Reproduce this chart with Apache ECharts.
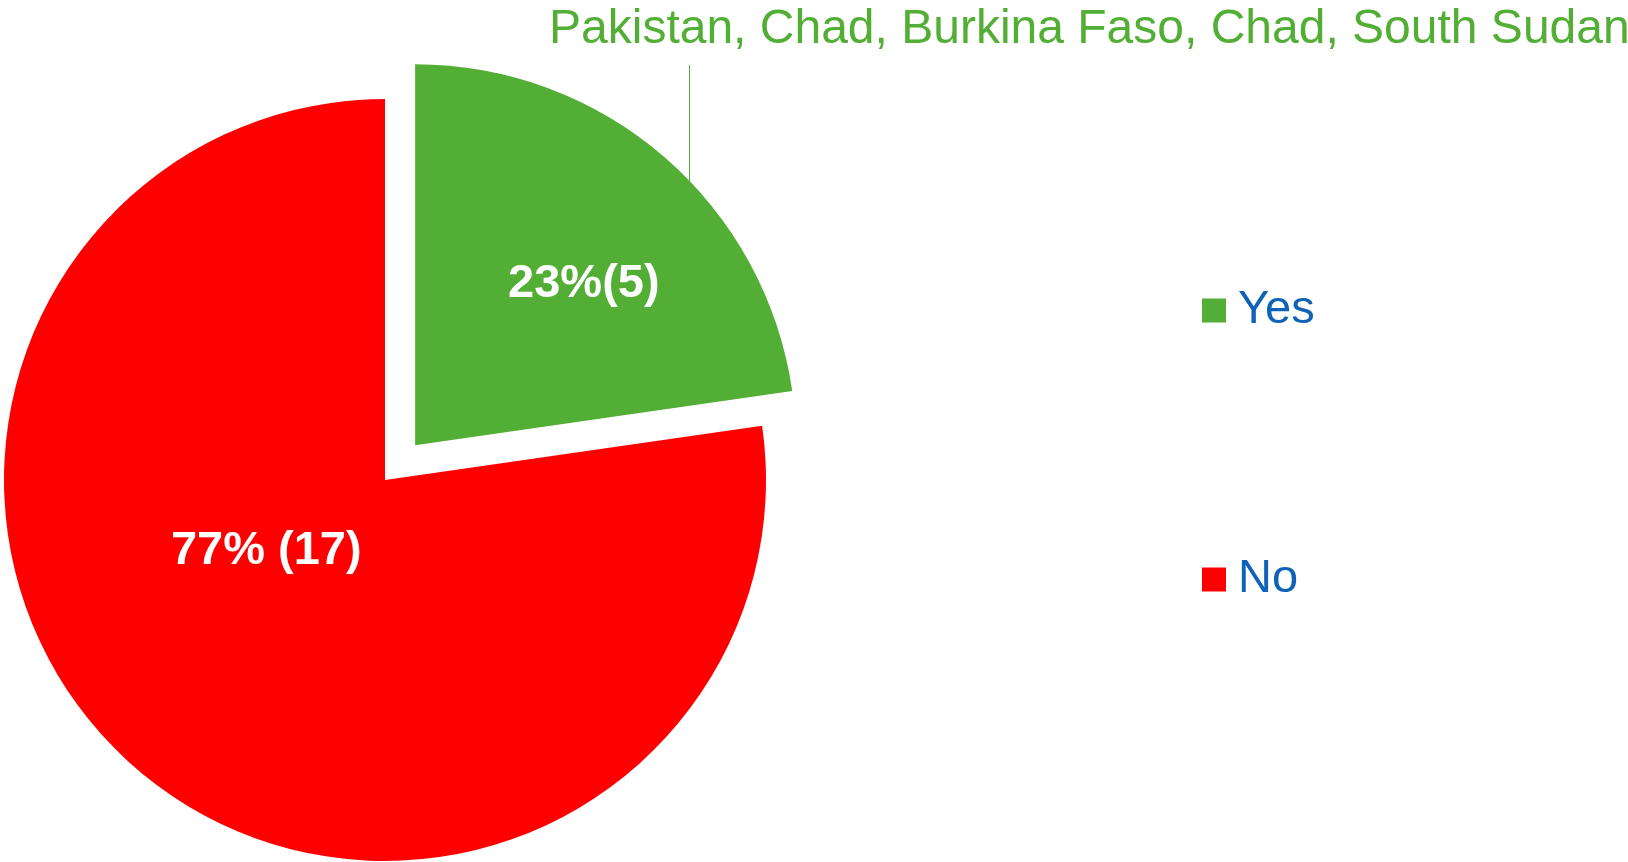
<!DOCTYPE html>
<html>
<head>
<meta charset="utf-8">
<script src="https://cdn.jsdelivr.net/npm/echarts@6/dist/echarts.min.js"></script>
<style>
  html, body { margin: 0; padding: 0; background: #fff; }
  #chart { width: 1628px; height: 862px; }
</style>
</head>
<body>
<div id="chart"></div>
<script>
// Survey answers
const answerNames = ["Yes", "No"];
const answerCounts = [5, 17];
const answerLabels = ["23%(5)", "77% (17)"];
const answerColors = ["#52AE34", "#FF0000"];
const yesCountries = ["Pakistan", "Chad", "Burkina Faso", "Chad", "South Sudan"];

const PIE_CENTER = [385, 480];
const PIE_RADIUS = 381;
const EXPLODE = 46;
const FONT = "'Liberation Sans', Arial, sans-serif";

const chart = echarts.init(document.getElementById("chart"));

const pieData = answerNames.map((name, i) => ({
  name: name,
  value: answerCounts[i],
  selected: i === 0,
  itemStyle: { color: answerColors[i] },
  select: { itemStyle: { color: answerColors[i], borderWidth: 0 } },
}));

// Offsets nudging the inside labels to where the original chart put them
const labelShift = [
  { dx: 42, dy: -15 },
  { dx: 8, dy: -75 },
];

// where the exploded "Yes" slice sits, so the note's leader line can start on its arc
const yesMid = (90 - 180 * answerCounts[0] / (answerCounts[0] + answerCounts[1])) * Math.PI / 180;
const yesCx = PIE_CENTER[0] + EXPLODE * Math.cos(yesMid);
const yesCy = PIE_CENTER[1] - EXPLODE * Math.sin(yesMid);

chart.setOption({
  animation: false,
  legend: {
    data: answerNames,
    orient: "vertical",
    left: 1197,
    top: 282,
    itemWidth: 24,
    itemHeight: 24,
    itemGap: 222,
    icon: "rect",
    selectedMode: false,
    textStyle: {
      color: "#0F62B8",
      fontSize: 47,
      lineHeight: 47,
      fontFamily: FONT,
      padding: [0, 0, 0, 7],
    },
  },
  series: [
    {
      type: "pie",
      center: PIE_CENTER,
      radius: PIE_RADIUS,
      startAngle: 90,
      selectedMode: "single",
      selectedOffset: EXPLODE,
      silent: true,
      data: pieData,
      label: {
        show: true,
        position: "inside",
        formatter: p => answerLabels[p.dataIndex],
        color: "#fff",
        fontSize: 47,
        fontWeight: "bold",
        fontFamily: FONT,
      },
      labelLine: { show: false },
      labelLayout: p => labelShift[p.dataIndex],
      emphasis: { disabled: true },
    },
    {
      // transparent overlay carrying the country note for "Yes"
      type: "pie",
      center: PIE_CENTER,
      radius: PIE_RADIUS,
      startAngle: 90,
      silent: true,
      z: 3,
      data: answerNames.map((name, i) => ({
        name: name,
        value: answerCounts[i],
        itemStyle: { color: "rgba(0,0,0,0)" },
        label: { show: i === 0 },
        labelLine: { show: i === 0 },
      })),
      label: {
        position: "outside",
        formatter: () => yesCountries.join(", "),
        color: answerColors[0],
        fontSize: 48,
        fontFamily: FONT,
        overflow: "none",
      },
      labelLine: {
        show: true,
        lineStyle: { color: answerColors[0], width: 1 },
      },
      labelLayout: p => {
        if (p.dataIndex !== 0) return {};
        const lx = 689.5;
        const ay = yesCy - Math.sqrt(PIE_RADIUS * PIE_RADIUS - (lx - yesCx) * (lx - yesCx));
        return {
          x: 549,
          y: 30,
          align: "left",
          verticalAlign: "middle",
          labelLinePoints: [[lx, ay], [lx, (ay + 65) / 2], [lx, 65]],
        };
      },
      emphasis: { disabled: true },
    },
  ],
});
</script>
</body>
</html>
